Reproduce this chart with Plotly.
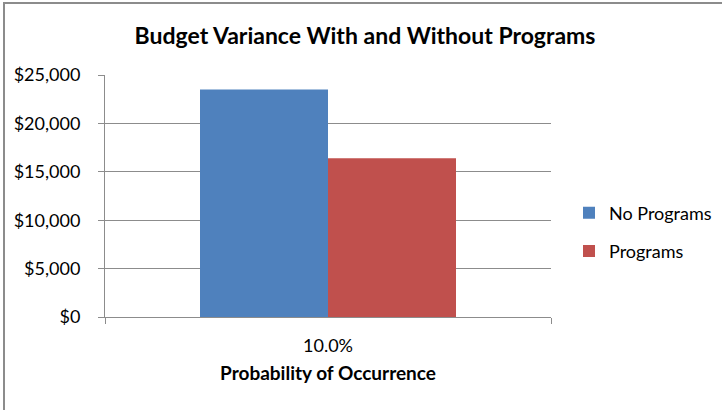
import plotly.graph_objects as go

# Chart data
categories = ["10.0%"]
no_programs = [23500]
programs = [16400]
series_names = ["No Programs", "Programs"]
y_ticks = [0, 5000, 10000, 15000, 20000, 25000]
y_tick_labels = ["$0", "$5,000", "$10,000", "$15,000", "$20,000", "$25,000"]

FONT = "Lato"
GRID = "#8c8c8c"

fig = go.Figure()
fig.add_trace(go.Bar(name=series_names[0], x=categories, y=no_programs,
                     marker=dict(color="#4F81BD", line=dict(width=0)),
                     legendgroup="a"))
fig.add_trace(go.Bar(name=series_names[1], x=categories, y=programs,
                     marker=dict(color="#C0504D", line=dict(width=0)),
                     legendgroup="b"))

L, R, T, B = 105, 171, 75, 93
W, H = 722, 410
pw, ph = W - L - R, H - T - B

def px_x(px):
    return (px - L) / pw

def px_y(py):
    return (H - B - py) / ph

fig.update_layout(
    width=W, height=H,
    margin=dict(l=L, r=R, t=T, b=B, pad=0, autoexpand=False),
    paper_bgcolor="white", plot_bgcolor="white",
    barmode="group", bargap=0.426, bargroupgap=0,
    font=dict(family=FONT, size=18, color="#000000"),
    title=dict(text="<b>Budget Variance With and Without Programs</b>",
               x=365 / W, xanchor="center", y=1 - 36 / H, yanchor="middle",
               font=dict(family=FONT, size=23, color="#000000")),
    legend=dict(x=px_x(569), xanchor="left", y=px_y(232), yanchor="middle",
                font=dict(family=FONT, size=18), tracegroupgap=12,
                itemwidth=30, bgcolor="rgba(0,0,0,0)"),
    xaxis=dict(type="category", showline=True, linecolor=GRID, linewidth=1,
               ticks="outside", tickson="boundaries", ticklen=6, tickcolor=GRID,
               showgrid=False, ticklabelstandoff=12,
               title=dict(text="<b>Probability of Occurrence</b>",
                          font=dict(family=FONT, size=19), standoff=12),
               tickfont=dict(family=FONT, size=18)),
    yaxis=dict(range=[0, 25000], tickvals=y_ticks, ticktext=y_tick_labels,
               showline=True, linecolor=GRID, linewidth=1,
               ticks="outside", ticklen=6, tickcolor=GRID,
               showgrid=True, gridcolor=GRID, gridwidth=1, zeroline=False,
               ticklabelstandoff=14,
               tickfont=dict(family=FONT, size=18)),
    shapes=[dict(type="rect", xref="paper", yref="paper",
                 x0=px_x(4), x1=px_x(740), y0=px_y(3), y1=px_y(430),
                 line=dict(color="#8c8c8c", width=2), fillcolor="rgba(0,0,0,0)",
                 layer="below")],
)

fig.write_html("out.html")
